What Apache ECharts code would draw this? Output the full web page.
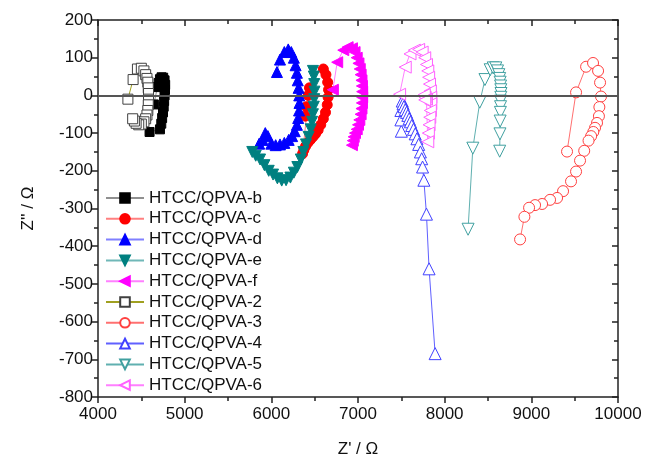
<!DOCTYPE html>
<html><head><meta charset="utf-8">
<script src="https://cdn.jsdelivr.net/npm/echarts@6/dist/echarts.min.js"></script>
<style>html,body{margin:0;padding:0;background:#fff}#c{width:645px;height:463px}</style>
</head><body><div id="c"></div>
<script>
const seriesNames = ['HTCC/QPVA-b','HTCC/QPVA-c','HTCC/QPVA-d','HTCC/QPVA-e','HTCC/QPVA-f','HTCC/QPVA-2','HTCC/QPVA-3','HTCC/QPVA-4','HTCC/QPVA-5','HTCC/QPVA-6'];
const xTicks = [4000,5000,6000,7000,8000,9000,10000];
const yTicks = [-800,-700,-600,-500,-400,-300,-200,-100,0,100,200];

const dataB = [[4595,-97],[4715,-90],[4730,-75],[4740,-60],[4750,-45],[4758,-30],[4763,-15],[4768,0],[4773,15],[4775,28],[4768,40],[4752,47],[4733,48],[4715,43],[4700,33],[4685,22],[4645,-24]];
const dataC = [[6600,70],[6630,55],[6650,35],[6660,15],[6655,-5],[6645,-25],[6625,-45],[6600,-62],[6570,-78],[6540,-92],[6510,-102],[6480,-110],[6450,-118],[6420,-126],[6395,-135],[6375,-145],[6360,-155],[6440,20],[6425,0],[6405,-30],[6392,-55]];
const dataD = [[6065,62],[6100,95],[6150,115],[6195,122],[6230,115],[6260,100],[6280,80],[6295,60],[6305,40],[6315,20],[6322,0],[6325,-20],[6320,-40],[6310,-60],[6295,-78],[6270,-95],[6240,-108],[6200,-118],[6150,-126],[6100,-130],[6050,-132],[6000,-128],[5960,-108],[5930,-100],[5900,-118],[5860,-128]];
const dataE = [[6480,65],[6490,50],[6495,30],[6498,10],[6495,-10],[6490,-30],[6480,-50],[6470,-70],[6455,-90],[6430,-110],[6400,-130],[6370,-150],[6340,-170],[6300,-190],[6260,-205],[6220,-218],[6170,-225],[6120,-226],[6070,-220],[6020,-210],[5970,-200],[5920,-185],[5870,-170],[5820,-160],[5780,-150]];
const dataF = [[6710,15],[6760,88],[6830,120],[6880,128],[6930,125],[6960,115],[6985,100],[7005,85],[7020,70],[7030,55],[7040,40],[7045,25],[7048,10],[7048,-5],[7045,-20],[7040,-35],[7030,-50],[7015,-65],[7000,-78],[6985,-90],[6965,-100],[6950,-110],[6940,-120],[6930,-132]];
const data2 = [[4345,-10],[4405,42],[4455,70],[4500,72],[4530,65],[4550,55],[4565,45],[4575,35],[4580,20],[4583,5],[4583,-10],[4580,-25],[4575,-40],[4565,-52],[4550,-62],[4530,-70],[4500,-76],[4470,-78],[4440,-74],[4420,-68],[4400,-62]];
const data3 = [[9412,-149],[9516,8],[9632,76],[9712,86],[9770,65],[9793,34],[9804,-3],[9785,-31],[9780,-55],[9758,-73],[9735,-86],[9715,-97],[9690,-108],[9660,-120],[9610,-147],[9562,-173],[9516,-202],[9458,-228],[9366,-254],[9297,-272],[9216,-277],[9124,-288],[9043,-291],[8974,-298],[8920,-322],[8870,-382]];
const data4 = [[7500,-95],[7495,-65],[7495,-40],[7510,-15],[7520,-22],[7530,-30],[7545,-38],[7560,-45],[7575,-53],[7590,-62],[7605,-70],[7620,-80],[7640,-90],[7660,-102],[7680,-115],[7700,-130],[7720,-150],[7735,-168],[7745,-190],[7760,-225],[7790,-315],[7820,-460],[7890,-685]];
const data5 = [[8270,-355],[8325,-140],[8405,-18],[8465,42],[8525,68],[8560,73],[8590,73],[8610,65],[8625,55],[8635,45],[8640,35],[8645,25],[8648,15],[8650,5],[8648,-5],[8645,-15],[8645,-30],[8643,-45],[8640,-68],[8638,-102],[8635,-148]];
const data6 = [[7480,3],[7545,75],[7600,110],[7650,120],[7700,122],[7740,115],[7770,100],[7790,82],[7805,65],[7815,48],[7825,30],[7835,12],[7840,-5],[7840,-22],[7835,-40],[7828,-58],[7820,-78],[7812,-100],[7805,-123],[7790,-10],[7775,-5],[7765,2],[7770,-12]];

const allData = [dataB,dataC,dataD,dataE,dataF,data2,data3,data4,data5,data6];
const markers = [
  {sym:'rect',rot:0,fill:'#000000',border:'#000000',line:'#909090',size:9},
  {sym:'circle',rot:0,fill:'#ff0000',border:'#ff0000',line:'#ff8080',size:10},
  {sym:'triangle',rot:0,fill:'#0000ff',border:'#0000ff',line:'#8080ff',size:11},
  {sym:'triangle',rot:180,fill:'#008080',border:'#008080',line:'#70b8b8',size:11},
  {sym:'triangle',rot:90,fill:'#ff00ff',border:'#ff00ff',line:'#ff80ff',size:11},
  {sym:'rect',rot:0,fill:'#ffffff',border:'#404040',line:'#a0a020',size:10},
  {sym:'circle',rot:0,fill:'#ffffff',border:'#ff4040',line:'#ff7070',size:11},
  {sym:'triangle',rot:0,fill:'#ffffff',border:'#4040ff',line:'#6060ff',size:12},
  {sym:'triangle',rot:180,fill:'#ffffff',border:'#40a0a0',line:'#60b0b0',size:12},
  {sym:'triangle',rot:90,fill:'#ffffff',border:'#ff60ff',line:'#ff80ff',size:12}
];

const font = 'Liberation Sans, Arial, sans-serif';
const series = seriesNames.map((n,i)=>{
  const m = markers[i];
  const s = {
    name:n, type:'line', data:allData[i], symbol:m.sym, symbolRotate:m.rot, symbolSize:m.size,
    showAllSymbol:true, animation:false,
    lineStyle:{color:m.line,width:1},
    itemStyle:{color:m.fill,borderColor:m.border,borderWidth:1},
    z: 2
  };
  if(i===0){
    s.markLine = {silent:true,symbol:['none','none'],label:{show:false},
      lineStyle:{color:'#555555',width:2,type:'solid'},data:[{yAxis:0}]};
  }
  return s;
});

const chart = echarts.init(document.getElementById('c'),null,{renderer:'canvas'});
const axisLineStyle = {color:'#222',width:1.5};
const plain = v => String(v);
chart.setOption({
  backgroundColor:'#ffffff',
  animation:false,
  grid:{left:98,right:27,top:20,bottom:61},
  legend:{
    orient:'vertical', left:100, top:184.5, itemGap:3.8, itemWidth:38, itemHeight:12,
    textStyle:{fontFamily:font,fontSize:17,lineHeight:17,color:'#111'},
    data:seriesNames
  },
  xAxis:[
    {type:'value',min:xTicks[0],max:xTicks[xTicks.length-1],interval:1000,position:'bottom',
     name:"Z' / Ω",nameLocation:'middle',nameGap:44,
     nameTextStyle:{fontFamily:font,fontSize:17,color:'#111'},
     axisLine:{show:true,onZero:false,lineStyle:axisLineStyle},
     axisTick:{show:true,inside:false,length:6,lineStyle:{color:'#222',width:1.5}},
     minorTick:{show:true,splitNumber:2,length:4,lineStyle:{color:'#222',width:1.5}},
     splitLine:{show:false},
     axisLabel:{fontFamily:font,fontSize:17,color:'#111',margin:9,formatter:plain}},
    {type:'value',min:xTicks[0],max:xTicks[xTicks.length-1],interval:1000,position:'top',
     axisLine:{show:true,onZero:false,lineStyle:axisLineStyle},
     axisTick:{show:true,inside:true,length:6,lineStyle:{color:'#222',width:1.5}},
     minorTick:{show:true,splitNumber:2,length:4,lineStyle:{color:'#222',width:1.5}},
     splitLine:{show:false},axisLabel:{show:false}}
  ],
  yAxis:[
    {type:'value',min:yTicks[0],max:yTicks[yTicks.length-1],interval:100,position:'left',
     name:"Z'' / Ω",nameLocation:'middle',nameGap:61,nameRotate:90,
     nameTextStyle:{fontFamily:font,fontSize:17,color:'#111'},
     axisLine:{show:true,onZero:false,lineStyle:axisLineStyle},
     axisTick:{show:true,inside:false,length:6,lineStyle:{color:'#222',width:1.5}},
     minorTick:{show:true,splitNumber:2,length:4,lineStyle:{color:'#222',width:1.5}},
     splitLine:{show:false},
     axisLabel:{fontFamily:font,fontSize:17,color:'#111',margin:5,formatter:plain}},
    {type:'value',min:yTicks[0],max:yTicks[yTicks.length-1],interval:100,position:'right',
     axisLine:{show:true,onZero:false,lineStyle:axisLineStyle},
     axisTick:{show:true,inside:true,length:6,lineStyle:{color:'#222',width:1.5}},
     minorTick:{show:true,splitNumber:2,length:4,lineStyle:{color:'#222',width:1.5}},
     splitLine:{show:false},axisLabel:{show:false}}
  ],
  series:series
});
</script></body></html>
